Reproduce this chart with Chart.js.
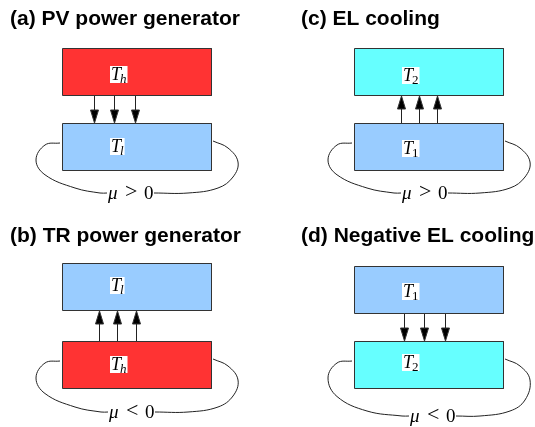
<!DOCTYPE html>
<html><head><meta charset="utf-8">
<script src="https://cdn.jsdelivr.net/npm/chart.js@4"></script>
<style>html,body{margin:0;padding:0;background:#fff}canvas{display:block}</style>
</head><body>
<canvas id="c" width="535" height="427"></canvas>
<script>
// ---- diagram content ----
const panelTitles = ['(a) PV power generator', '(b) TR power generator', '(c) EL cooling', '(d) Negative EL cooling'];
const upperSub = ['h', 'l', '2', '1'];
const lowerSub = ['l', 'h', '1', '2'];
const upperKind = ['hot', 'cold', 'cyan', 'cold'];
const lowerKind = ['cold', 'hot', 'cold', 'cyan'];
const flowDir = ['down', 'up', 'up', 'down'];
const muRel = ['>', '<', '>', '<'];
// ---- layout (data units of the diagram axes) ----
const titleX = [10, 10, 301, 301];
const titleY = [25, 242, 25, 242];
const boxLeft = [62, 62, 354, 354];
const upperTop = [48, 263, 48, 266];
const lowerTop = [123, 341, 123, 341];
const boxW = 149, boxH = 47;
const arrowOffsets = [[32, 52, 73], [37, 55, 74], [47, 65, 83], [50, 70, 91]];
const upperBase = [32, 28, 33, 31];
const lowerBase = [29, 29, 31, 27];
const loopDepth = [70, 71, 70, 75];
const muOffset = [46, 47, 48, 56];
const kindColor = { hot: '#FF3333', cold: '#99CCFF', cyan: '#66FFFF' };
const edge = '#333333';

const datasets = [];
function poly(pts, fillColor, bw) {
  datasets.push({ type: 'line', data: pts.map(p => ({ x: p[0], y: p[1] })), fill: 'shape',
    backgroundColor: fillColor, borderColor: edge, borderWidth: bw, pointRadius: 0, tension: 0 });
}
function path(pts, tension) {
  datasets.push({ type: 'line', data: pts.map(p => ({ x: p[0], y: p[1] })), fill: false,
    borderColor: '#222', borderWidth: 1, pointRadius: 0, tension: tension });
}
function box(x, y, c) {
  const a = x + 0.5, b = y + 0.5;
  poly([[a, b], [a + boxW, b], [a + boxW, b + boxH], [a, b + boxH], [a, b]], c, 1);
}
for (let i = 0; i < 4; i++) {
  const x0 = boxLeft[i];
  box(x0, upperTop[i], kindColor[upperKind[i]]);
  box(x0, lowerTop[i], kindColor[lowerKind[i]]);
  const yUpBot = upperTop[i] + boxH, yLowTop = lowerTop[i];
  arrowOffsets[i].forEach(off => {
    const ax = x0 + off + 0.5;
    const headL = 13, hw = 4;
    if (flowDir[i] === 'down') {
      path([[ax, yUpBot], [ax, yLowTop - headL + 1]], 0);
      poly([[ax - hw, yLowTop - headL], [ax + hw, yLowTop - headL], [ax, yLowTop], [ax - hw, yLowTop - headL]], '#000', 1);
    } else {
      path([[ax, yLowTop], [ax, yUpBot + headL + 1]], 0);
      poly([[ax - hw, yUpBot + headL + 1], [ax + hw, yUpBot + headL + 1], [ax, yUpBot + 1], [ax - hw, yUpBot + headL + 1]], '#000', 1);
    }
  });
  const t = lowerTop[i], D = loopDepth[i], m = x0 + muOffset[i];
  path([[x0 - 2, t + 20], [x0 - 17, t + 22], [x0 - 26, t + 37], [x0 - 17, t + D * 0.74], [x0 + 13, t + D - 5], [m - 8, t + D], [m - 1, t + D]], 0.4);
  path([[m + 46, t + D], [x0 + 126, t + D], [x0 + 156, t + D - 5], [x0 + 171, t + D - 16], [x0 + 176, t + 39], [x0 + 166, t + 25], [x0 + 151, t + 18]], 0.4);
}

const textPlugin = {
  id: 'diagramText',
  afterDatasetsDraw(chart) {
    const ctx = chart.ctx, xs = chart.scales.x, ys = chart.scales.y;
    const px = v => xs.getPixelForValue(v), py = v => ys.getPixelForValue(v);
    ctx.save();
    ctx.textBaseline = 'alphabetic';
    ctx.textAlign = 'left';
    ctx.fillStyle = '#000';
    ctx.font = 'bold 21px "Liberation Sans", Arial, sans-serif';
    panelTitles.forEach((s, i) => ctx.fillText(s, px(titleX[i]), py(titleY[i])));
    function label(x, base, sub) {
      const X = px(x), B = py(base);
      ctx.font = 'italic 18px "Liberation Serif", serif';
      const wT = ctx.measureText('T').width;
      const digit = /\d/.test(sub);
      ctx.font = (digit ? '' : 'italic ') + '13px "Liberation Serif", serif';
      const wS = ctx.measureText(sub).width;
      ctx.fillStyle = '#fff';
      ctx.fillRect(X - 1, B - 14, wT + wS + 1, 17);
      ctx.fillStyle = '#000';
      ctx.font = 'italic 18px "Liberation Serif", serif';
      ctx.fillText('T', X, B);
      ctx.font = (digit ? '' : 'italic ') + '13px "Liberation Serif", serif';
      ctx.fillText(sub, X + wT - 1, B + 3);
    }
    for (let i = 0; i < 4; i++) {
      label(boxLeft[i] + 49, upperTop[i] + upperBase[i], upperSub[i]);
      label(boxLeft[i] + 49, lowerTop[i] + lowerBase[i], lowerSub[i]);
      const m = boxLeft[i] + muOffset[i], b = lowerTop[i] + loopDepth[i] + 6;
      ctx.font = 'italic 19px "Liberation Serif", serif';
      ctx.fillText('\u03bc', px(m), py(b));
      ctx.font = '22px "Liberation Serif", serif';
      ctx.fillText(muRel[i], px(m + 17), py(b - 1));
      ctx.font = '19px "Liberation Serif", serif';
      ctx.fillText('0', px(m + 36), py(b));
    }
    ctx.restore();
  }
};

new Chart(document.getElementById('c'), {
  type: 'scatter',
  data: { datasets },
  options: {
    responsive: false, devicePixelRatio: 1, animation: false, events: [],
    layout: { padding: 0 },
    plugins: { legend: { display: false }, tooltip: { enabled: false }, title: { display: false } },
    scales: {
      x: { type: 'linear', min: 0, max: 535, display: false },
      y: { type: 'linear', min: 0, max: 427, reverse: true, display: false }
    }
  },
  plugins: [textPlugin]
});
</script>
</body></html>
